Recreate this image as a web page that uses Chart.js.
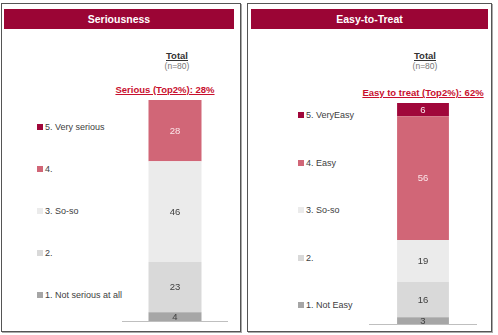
<!DOCTYPE html>
<html>
<head>
<meta charset="utf-8">
<script src="https://cdn.jsdelivr.net/npm/chart.js@4"></script>
<style>
    body { margin: 0; width: 498px; height: 335px; background: #fff; position: relative; overflow: hidden;
           font-family: "Liberation Sans", Arial, sans-serif; }
    .panel { position: absolute; top: 3px; height: 327px; border: 1px solid #555; box-shadow: 1px 1px 0 #aaa; }
    .header { position: absolute; height: 20px; background: #9b0535; color: #fff; font-weight: bold;
              font-size: 10.5px; line-height: 20px; text-align: center; }
    .txt { position: absolute; text-align: center; white-space: nowrap; }
    .total { font-weight: bold; font-size: 9.5px; color: #333; text-decoration: underline; }
    .n { font-size: 8.5px; color: #777; }
    .top2 { font-weight: bold; font-size: 9.5px; color: #c8102e; text-decoration: underline; }
    .legend { position: absolute; font-size: 9px; color: #404040; }
    .legend div { position: absolute; left: 0; white-space: nowrap; height: 12px; line-height: 12px; }
    .legend span { display: inline-block; width: 6px; height: 6px; margin-right: 2px; vertical-align: 0px; }
    canvas { position: absolute; }
</style>
</head>
<body>
<div class="panel" style="left:1px; width:238px;"></div>
<div class="panel" style="left:247px; width:243px;"></div>
<div class="header" style="left:4px; top:9px; width:230px;">Seriousness</div>
<div class="header" style="left:251px; top:9px; width:237px;">Easy-to-Treat</div>

<div class="txt total" style="left:147px; top:50px; width:60px;">Total</div>
<div class="txt n" style="left:147px; top:61px; width:60px;">(n=80)</div>
<div class="txt top2" style="left:100px; top:84px; width:130px;">Serious (Top2%): 28%</div>

<div class="txt total" style="left:395px; top:50px; width:60px;">Total</div>
<div class="txt n" style="left:395px; top:61px; width:60px;">(n=80)</div>
<div class="txt top2" style="left:350px; top:87px; width:146px;">Easy to treat (Top2%): 62%</div>

<div class="legend" id="legendSerious" style="left:37px; top:0;"></div>
<div class="legend" id="legendEasy" style="left:298px; top:0;"></div>

<div style="position:absolute; left:122px; top:96px; width:106px; height:228px;"><canvas id="seriousChart"></canvas></div>
<div style="position:absolute; left:369px; top:99px; width:108px; height:228px;"><canvas id="easyChart"></canvas></div>

<script>
// Datos
const barLabels = ['Total'];
const seriousCategories = ['1. Not serious at all', '2.', '3. So-so', '4.', '5. Very serious'];
const seriousValues = [4, 23, 46, 28, 0];
const easyCategories = ['1. Not Easy', '2.', '3. So-so', '4. Easy', '5. VeryEasy'];
const easyValues = [3, 16, 19, 56, 6];
const levelColors = ['#a6a6a6', '#d9d9d9', '#ebebeb', '#d16677', '#a0073a'];
const labelColors = ['#404040', '#404040', '#404040', '#fbe6ea', '#fbe6ea'];

// Etiquetas de valores dentro de cada segmento
const valueLabels = {
    id: 'valueLabels',
    afterDatasetsDraw(chart) {
        const ctx = chart.ctx;
        ctx.save();
        ctx.font = '9.5px "Liberation Sans", Arial, sans-serif';
        ctx.textAlign = 'center';
        ctx.textBaseline = 'middle';
        chart.data.datasets.forEach((ds, i) => {
            const meta = chart.getDatasetMeta(i);
            meta.data.forEach((bar, j) => {
                const v = ds.data[j];
                if (!v) return;
                ctx.fillStyle = labelColors[i];
                ctx.fillText(v, bar.x, (bar.y + bar.base) / 2 + 0.5);
            });
        });
        ctx.restore();
    }
};

function buildChart(id, categories, values, catPct) {
    const total = values.reduce((a, b) => a + b, 0);
    const ctx = document.getElementById(id).getContext('2d');
    return new Chart(ctx, {
        type: 'bar',
        data: {
            labels: barLabels,
            datasets: categories.map((c, i) => ({
                label: c,
                data: [values[i]],
                backgroundColor: levelColors[i],
                borderWidth: 0,
                barPercentage: 1,
                categoryPercentage: catPct
            }))
        },
        options: {
            responsive: true,
            maintainAspectRatio: false,
            animation: false,
            layout: { padding: { top: 4, bottom: 3, left: 0, right: 0 } },
            plugins: {
                legend: { display: false },
                tooltip: { enabled: false }
            },
            scales: {
                x: {
                    stacked: true,
                    grid: { display: false, drawTicks: false },
                    ticks: { display: false },
                    border: { display: true, color: '#bfbfbf', width: 1 }
                },
                y: {
                    stacked: true,
                    display: false,
                    min: 0,
                    max: total
                }
            }
        },
        plugins: [valueLabels]
    });
}

// Leyenda (5 arriba, 1 abajo)
function buildLegend(id, categories, firstY, step) {
    const el = document.getElementById(id);
    for (let i = categories.length - 1; i >= 0; i--) {
        const row = document.createElement('div');
        const k = categories.length - 1 - i;
        row.style.top = (firstY + k * step - 6) + 'px';
        row.innerHTML = '<span style="background:' + levelColors[i] + '"></span>' + categories[i];
        el.appendChild(row);
    }
}

buildLegend('legendSerious', seriousCategories, 127, 42);
buildLegend('legendEasy', easyCategories, 115, 47.5);
buildChart('seriousChart', seriousCategories, seriousValues, 0.5);
buildChart('easyChart', easyCategories, easyValues, 0.48);
</script>
</body>
</html>
